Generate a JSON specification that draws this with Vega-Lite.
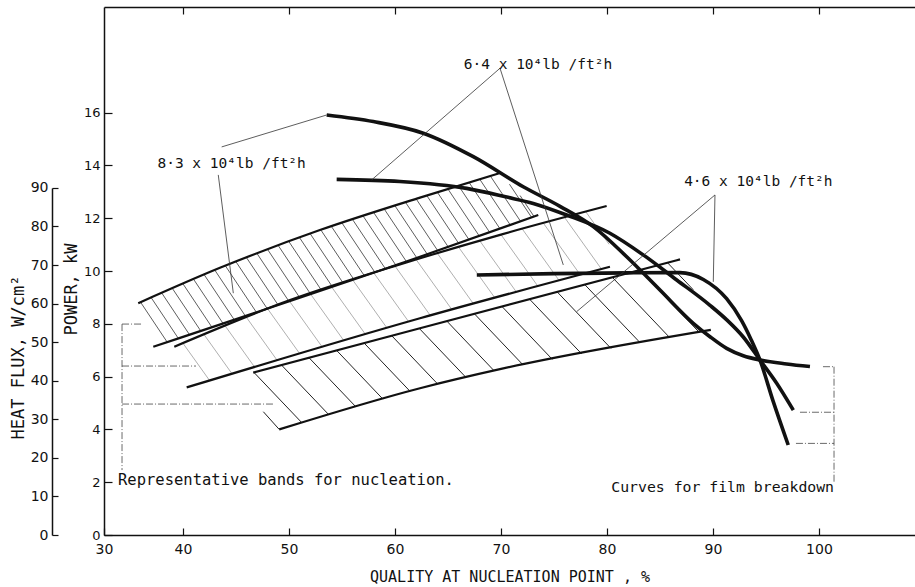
{
  "$schema": "https://vega.github.io/schema/vega-lite/v6.json",
  "width": 811,
  "height": 528,
  "autosize": {"type": "none"},
  "padding": {"left": 104, "top": 7, "right": 0, "bottom": 52},
  "background": "white",
  "config": {
    "view": {"stroke": null},
    "font": "DejaVu Sans",
    "axis": {"grid": false, "domainColor": "#111", "tickColor": "#111", "labelColor": "#111", "titleColor": "#111", "labelFont": "DejaVu Sans", "titleFont": "DejaVu Sans Mono", "titleFontWeight": "normal", "domainWidth": 1.5, "tickWidth": 1.2}
  },
  "datasets": {
    "edges": [
      {"id": "U1", "x": 35.78, "y": 8.78}, {"id": "U1", "x": 43.49, "y": 10.12}, {"id": "U1", "x": 52.92, "y": 11.55}, {"id": "U1", "x": 62.36, "y": 12.78}, {"id": "U1", "x": 69.84, "y": 13.70},
      {"id": "L1", "x": 37.2, "y": 7.13}, {"id": "L1", "x": 62.36, "y": 10.54}, {"id": "L1", "x": 73.52, "y": 12.12},
      {"id": "U2", "x": 39.18, "y": 7.13}, {"id": "U2", "x": 50.1, "y": 8.9}, {"id": "U2", "x": 60.47, "y": 10.25}, {"id": "U2", "x": 70, "y": 11.38}, {"id": "U2", "x": 79.97, "y": 12.46},
      {"id": "L2", "x": 40.35, "y": 5.59}, {"id": "L2", "x": 62.36, "y": 8.21}, {"id": "L2", "x": 80.28, "y": 10.16},
      {"id": "U3", "x": 46.63, "y": 6.15}, {"id": "U3", "x": 62.36, "y": 7.83}, {"id": "U3", "x": 86.89, "y": 10.44},
      {"id": "L3", "x": 49.08, "y": 4.0}, {"id": "L3", "x": 62.36, "y": 5.56}, {"id": "L3", "x": 70.22, "y": 6.31}, {"id": "L3", "x": 89.8, "y": 7.77}
    ],
    "curves": [
      {"id": "8.3", "x": 53.56, "y": 15.91}, {"id": "8.3", "x": 57.96, "y": 15.66}, {"id": "8.3", "x": 62.67, "y": 15.22}, {"id": "8.3", "x": 67.39, "y": 14.33}, {"id": "8.3", "x": 72.10, "y": 13.19}, {"id": "8.3", "x": 75.57, "y": 12.45}, {"id": "8.3", "x": 78.71, "y": 11.68}, {"id": "8.3", "x": 81.86, "y": 10.54}, {"id": "8.3", "x": 85.0, "y": 9.28}, {"id": "8.3", "x": 88.14, "y": 8.02}, {"id": "8.3", "x": 89.72, "y": 7.51}, {"id": "8.3", "x": 91.29, "y": 7.07}, {"id": "8.3", "x": 92.86, "y": 6.79}, {"id": "8.3", "x": 94.43, "y": 6.63}, {"id": "8.3", "x": 96.95, "y": 6.48}, {"id": "8.3", "x": 99.15, "y": 6.38},
      {"id": "6.4", "x": 54.5, "y": 13.47}, {"id": "6.4", "x": 60.47, "y": 13.39}, {"id": "6.4", "x": 66.76, "y": 13.13}, {"id": "6.4", "x": 70.54, "y": 12.80}, {"id": "6.4", "x": 73.05, "y": 12.56}, {"id": "6.4", "x": 76.2, "y": 12.12}, {"id": "6.4", "x": 80.28, "y": 11.43}, {"id": "6.4", "x": 83.42, "y": 10.61}, {"id": "6.4", "x": 86.58, "y": 9.66}, {"id": "6.4", "x": 89.72, "y": 8.7}, {"id": "6.4", "x": 91.3, "y": 8.15}, {"id": "6.4", "x": 92.86, "y": 7.5}, {"id": "6.4", "x": 94.43, "y": 6.63}, {"id": "6.4", "x": 96.01, "y": 5.75}, {"id": "6.4", "x": 97.58, "y": 4.73},
      {"id": "4.6", "x": 67.72, "y": 9.85}, {"id": "4.6", "x": 75, "y": 9.9}, {"id": "4.6", "x": 82, "y": 9.93}, {"id": "4.6", "x": 86.89, "y": 9.94}, {"id": "4.6", "x": 89.09, "y": 9.68}, {"id": "4.6", "x": 91.29, "y": 8.95}, {"id": "4.6", "x": 92.7, "y": 8.12}, {"id": "4.6", "x": 93.6, "y": 7.4}, {"id": "4.6", "x": 94.43, "y": 6.63}, {"id": "4.6", "x": 95.69, "y": 5.05}, {"id": "4.6", "x": 97.10, "y": 3.41}
    ],
    "hatchA": [
      {"x": 36, "y": 8.818, "x2": 38.51, "y2": 7.307}, {"x": 37, "y": 8.992, "x2": 39.56, "y2": 7.450}, {"x": 38, "y": 9.166, "x2": 40.61, "y2": 7.592}, {"x": 39, "y": 9.340, "x2": 41.67, "y2": 7.735}, {"x": 40, "y": 9.514, "x2": 42.72, "y2": 7.877}, {"x": 41, "y": 9.688, "x2": 43.77, "y2": 8.020}, {"x": 42, "y": 9.862, "x2": 44.82, "y2": 8.163}, {"x": 43, "y": 10.035, "x2": 45.87, "y2": 8.305}, {"x": 44, "y": 10.198, "x2": 46.91, "y2": 8.446}, {"x": 45, "y": 10.350, "x2": 47.93, "y2": 8.584}, {"x": 46, "y": 10.502, "x2": 48.96, "y2": 8.722}, {"x": 47, "y": 10.654, "x2": 49.98, "y2": 8.861}, {"x": 48, "y": 10.806, "x2": 51.00, "y2": 8.999}, {"x": 49, "y": 10.958, "x2": 52.02, "y2": 9.139}, {"x": 50, "y": 11.110, "x2": 53.05, "y2": 9.277}, {"x": 51, "y": 11.262, "x2": 54.07, "y2": 9.416}, {"x": 52, "y": 11.414, "x2": 55.09, "y2": 9.554}, {"x": 53, "y": 11.560, "x2": 56.10, "y2": 9.691}, {"x": 54, "y": 11.690, "x2": 57.10, "y2": 9.826}, {"x": 55, "y": 11.820, "x2": 58.09, "y2": 9.960}, {"x": 56, "y": 11.950, "x2": 59.08, "y2": 10.095}, {"x": 57, "y": 12.080, "x2": 60.07, "y2": 10.229}, {"x": 58, "y": 12.210, "x2": 61.07, "y2": 10.364}, {"x": 59, "y": 12.340, "x2": 62.06, "y2": 10.498}, {"x": 60, "y": 12.470, "x2": 63.05, "y2": 10.633}, {"x": 61, "y": 12.600, "x2": 64.04, "y2": 10.767}, {"x": 62, "y": 12.730, "x2": 65.04, "y2": 10.902}, {"x": 63, "y": 12.859, "x2": 66.02, "y2": 11.040}, {"x": 64, "y": 12.982, "x2": 67.00, "y2": 11.178}, {"x": 65, "y": 13.105, "x2": 67.97, "y2": 11.316}, {"x": 66, "y": 13.228, "x2": 68.95, "y2": 11.454}, {"x": 67, "y": 13.351, "x2": 69.92, "y2": 11.593}, {"x": 68, "y": 13.474, "x2": 70.90, "y2": 11.731}, {"x": 69, "y": 13.597, "x2": 71.87, "y2": 11.869}, {"x": 70.8, "y": 13.288, "x2": 72.89, "y2": 12.03}, {"x": 71.8, "y": 12.859, "x2": 73.12, "y2": 12.064}
    ],
    "hatchB": [
      {"x": 40, "y": 7.263, "x2": 42.52, "y2": 5.848}, {"x": 42, "y": 7.587, "x2": 44.64, "y2": 6.101}, {"x": 44, "y": 7.911, "x2": 46.77, "y2": 6.354}, {"x": 46, "y": 8.236, "x2": 48.90, "y2": 6.607}, {"x": 48, "y": 8.560, "x2": 51.03, "y2": 6.860}, {"x": 50, "y": 8.884, "x2": 53.15, "y2": 7.113}, {"x": 52, "y": 9.147, "x2": 55.19, "y2": 7.355}, {"x": 54, "y": 9.408, "x2": 57.22, "y2": 7.597}, {"x": 56, "y": 9.668, "x2": 59.25, "y2": 7.839}, {"x": 58, "y": 9.928, "x2": 61.29, "y2": 8.081}, {"x": 60, "y": 10.189, "x2": 63.32, "y2": 8.323}, {"x": 62, "y": 10.431, "x2": 65.36, "y2": 8.543}, {"x": 64, "y": 10.669, "x2": 67.40, "y2": 8.758}, {"x": 66, "y": 10.906, "x2": 69.43, "y2": 8.979}, {"x": 68, "y": 11.143, "x2": 71.46, "y2": 9.200}, {"x": 70, "y": 11.380, "x2": 73.49, "y2": 9.420}, {"x": 72, "y": 11.597, "x2": 75.49, "y2": 9.638}, {"x": 74, "y": 11.813, "x2": 77.48, "y2": 9.856}, {"x": 76, "y": 12.030, "x2": 79.48, "y2": 10.073}, {"x": 78, "y": 12.246, "x2": 80.2, "y2": 11.01}
    ],
    "hatchC": [
      {"x": 46.7, "y": 6.157, "x2": 51.22, "y2": 4.251}, {"x": 49.3, "y": 6.435, "x2": 53.77, "y2": 4.551}, {"x": 51.9, "y": 6.712, "x2": 56.32, "y2": 4.851}, {"x": 54.5, "y": 6.990, "x2": 58.86, "y2": 5.149}, {"x": 57.1, "y": 7.267, "x2": 61.41, "y2": 5.449}, {"x": 59.7, "y": 7.545, "x2": 64.03, "y2": 5.719}, {"x": 62.3, "y": 7.822, "x2": 66.69, "y2": 5.973}, {"x": 64.9, "y": 8.099, "x2": 69.34, "y2": 6.226}, {"x": 67.5, "y": 8.377, "x2": 72.07, "y2": 6.448}, {"x": 70.1, "y": 8.654, "x2": 74.84, "y2": 6.655}, {"x": 72.7, "y": 8.932, "x2": 77.61, "y2": 6.861}, {"x": 75.3, "y": 9.209, "x2": 80.38, "y2": 7.068}, {"x": 77.9, "y": 9.487, "x2": 83.15, "y2": 7.275}, {"x": 80.5, "y": 9.764, "x2": 85.91, "y2": 7.480}, {"x": 83.1, "y": 10.041, "x2": 88.68, "y2": 7.687}, {"x": 85.7, "y": 10.319, "x2": 88.14, "y2": 9.29}, {"x": 47.58, "y": 4.67, "x2": 49.08, "y2": 4.0}
    ],
    "leaders": [
      {"x": 43.65, "y": 14.7, "x2": 53.56, "y2": 15.91}, {"x": 43.33, "y": 13.64, "x2": 44.75, "y2": 9.16},
      {"x": 69.91, "y": 17.68, "x2": 57.8, "y2": 13.45}, {"x": 69.91, "y": 17.68, "x2": 75.88, "y2": 10.23},
      {"x": 90.19, "y": 12.88, "x2": 77.14, "y2": 8.46}, {"x": 90.19, "y": 12.88, "x2": 90.03, "y2": 9.59}
    ],
    "brackets": [
      {"x": 34.25, "y": 7.99, "x2": 36.23, "y2": 7.99}, {"x": 34.25, "y": 6.40, "x2": 41.23, "y2": 6.40}, {"x": 34.25, "y": 4.96, "x2": 48.49, "y2": 4.96}, {"x": 34.25, "y": 7.99, "x2": 34.25, "y2": 2.46},
      {"x": 100.38, "y": 6.375, "x2": 101.42, "y2": 6.375}, {"x": 98.21, "y": 4.65, "x2": 101.42, "y2": 4.65}, {"x": 97.83, "y": 3.47, "x2": 101.42, "y2": 3.47}, {"x": 101.42, "y": 6.375, "x2": 101.42, "y2": 1.96}
    ],
    "fluxLabels": [
      {"x": 44.59, "y": 14.05, "text": "8·3 x 10⁴lb /ft²h"},
      {"x": 73.49, "y": 17.80, "text": "6·4 x 10⁴lb /ft²h"},
      {"x": 94.28, "y": 13.38, "text": "4·6 x 10⁴lb /ft²h"}
    ],
    "noteLeft": [{"x": 33.87, "y": 2.08, "text": "Representative bands for nucleation."}],
    "noteRight": [{"x": 101.42, "y": 1.78, "text": "Curves for film breakdown"}],
    "fluxAxis": [{"x": 40, "flux": 0}, {"x": 40, "flux": 90}]
  },
  "resolve": {"scale": {"y": "independent"}, "axis": {"x": "independent"}},
  "layer": [
    {
      "encoding": {
        "x": {"field": "x", "type": "quantitative", "scale": {"domain": [32.55, 109.06], "nice": false, "zero": false},
          "axis": {"title": "QUALITY AT NUCLEATION POINT , %", "values": [32.55, 40, 50, 60, 70, 80, 90, 100], "labelExpr": "datum.value < 35 ? '30' : datum.label", "labelFlush": false, "tickSize": -7, "labelPadding": 14, "labelFontSize": 14, "titleFontSize": 15, "titlePadding": 13}},
        "y": {"field": "y", "type": "quantitative", "scale": {"domain": [0, 20], "nice": false, "zero": false},
          "axis": {"title": "POWER, kW", "values": [0, 2, 4, 6, 8, 10, 12, 14, 16], "tickSize": -8, "labelPadding": 12, "labelFontSize": 13, "titleFontSize": 17, "titlePadding": 3, "titleY": 282}}
      },
      "layer": [
        {"data": {"name": "hatchA"}, "mark": {"type": "rule", "stroke": "#333", "strokeWidth": 0.8}, "encoding": {"x2": {"field": "x2"}, "y2": {"field": "y2"}}},
        {"data": {"name": "hatchB"}, "mark": {"type": "rule", "stroke": "#9a9a9a", "strokeWidth": 0.8}, "encoding": {"x2": {"field": "x2"}, "y2": {"field": "y2"}}},
        {"data": {"name": "hatchC"}, "mark": {"type": "rule", "stroke": "#222", "strokeWidth": 1}, "encoding": {"x2": {"field": "x2"}, "y2": {"field": "y2"}}},
        {"data": {"name": "edges"}, "mark": {"type": "line", "stroke": "#111", "strokeWidth": 2.2, "interpolate": "monotone"}, "encoding": {"detail": {"field": "id"}}},
        {"data": {"name": "curves"}, "mark": {"type": "line", "stroke": "#111", "strokeWidth": 3.6, "interpolate": "monotone"}, "encoding": {"detail": {"field": "id"}}},
        {"data": {"name": "leaders"}, "mark": {"type": "rule", "stroke": "#333", "strokeWidth": 0.8}, "encoding": {"x2": {"field": "x2"}, "y2": {"field": "y2"}}},
        {"data": {"name": "brackets"}, "mark": {"type": "rule", "stroke": "#444", "strokeWidth": 0.8, "strokeDash": [7, 2, 1, 2]}, "encoding": {"x2": {"field": "x2"}, "y2": {"field": "y2"}}},
        {"data": {"name": "fluxLabels"}, "mark": {"type": "text", "align": "center", "baseline": "middle", "font": "DejaVu Sans Mono", "fontSize": 14.5, "color": "#111"}, "encoding": {"text": {"field": "text"}}},
        {"data": {"name": "noteLeft"}, "mark": {"type": "text", "align": "left", "baseline": "middle", "font": "DejaVu Sans Mono", "fontSize": 15.5, "color": "#111"}, "encoding": {"text": {"field": "text"}}},
        {"data": {"name": "noteRight"}, "mark": {"type": "text", "align": "right", "baseline": "middle", "font": "DejaVu Sans Mono", "fontSize": 14.8, "color": "#111"}, "encoding": {"text": {"field": "text"}}}
      ]
    },
    {
      "data": {"name": "fluxAxis"},
      "mark": {"type": "point", "opacity": 0},
      "encoding": {
        "x": {"field": "x", "type": "quantitative", "scale": {"domain": [32.55, 109.06], "nice": false, "zero": false},
          "axis": {"orient": "top", "labels": false, "title": null, "values": [40, 50, 60, 70, 80, 90, 100], "tickSize": -7}},
        "y": {"field": "flux", "type": "quantitative", "scale": {"domain": [0, 136.9], "nice": false, "zero": false},
          "axis": {"orient": "left", "offset": 52, "title": "HEAT FLUX, W/cm²", "values": [0, 10, 20, 30, 40, 50, 60, 70, 80, 90], "tickSize": -6, "labelPadding": 10, "labelFontSize": 14, "titleFontSize": 17, "titlePadding": 3, "titleY": 350, "domainDash": [347, 400]}}
      }
    }
  ]
}
